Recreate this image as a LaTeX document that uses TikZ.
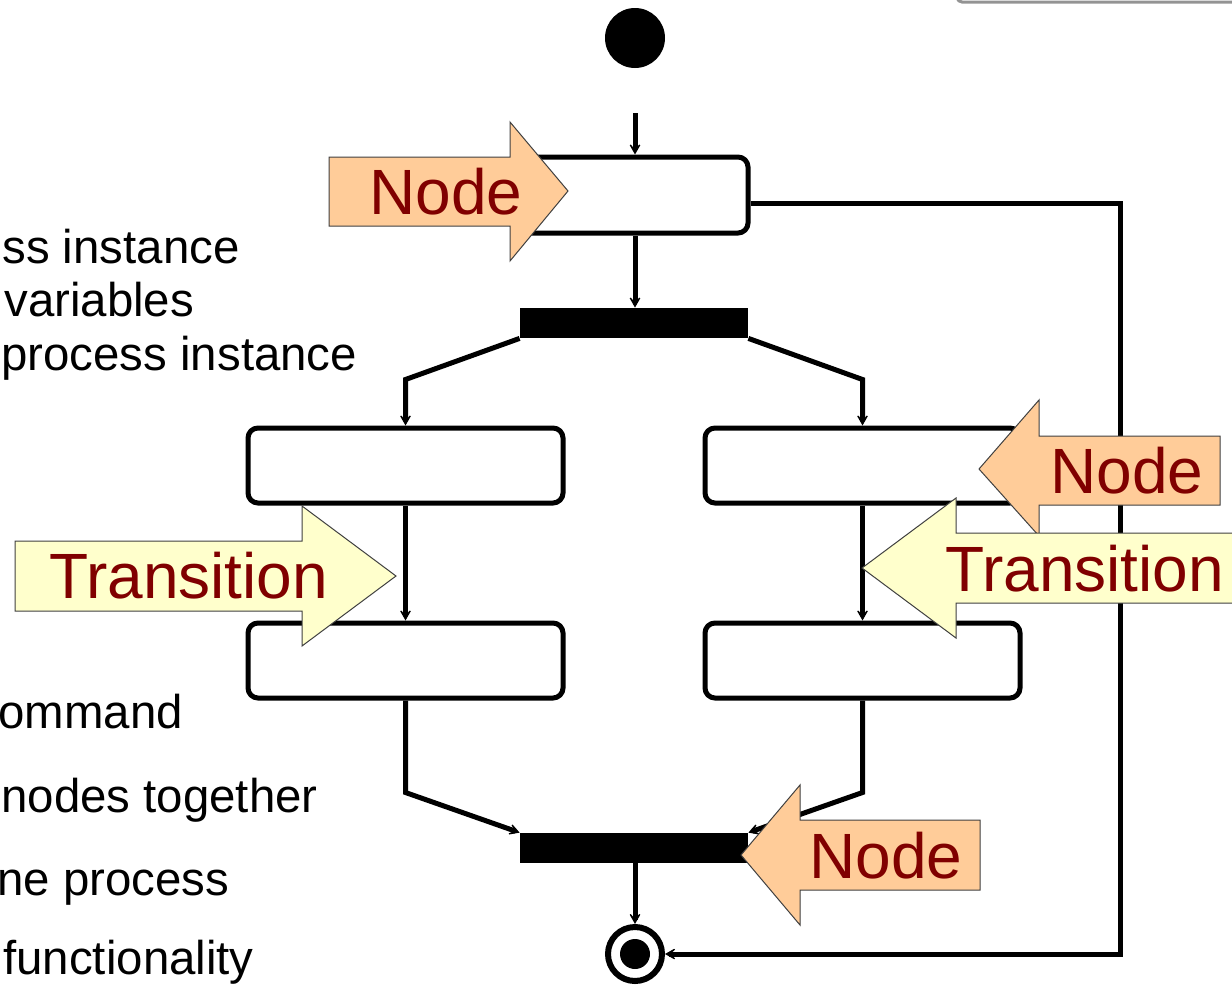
\documentclass[tikz,border=0pt]{standalone}
\usepackage{fontspec}
\setmainfont{Liberation Sans}
\usetikzlibrary{arrows.meta}
\definecolor{calloutorange}{HTML}{FFCC99}
\definecolor{calloutyellow}{HTML}{FFFFCC}
\definecolor{labelred}{HTML}{800000}
\definecolor{calloutedge}{HTML}{404040}
\begin{document}
\begin{tikzpicture}[x=0.5pt,y=-0.5pt,
  action/.style={draw, line width=2.5pt, rounded corners=5pt, fill=white, inner sep=0pt},
  wideaction/.style={action, minimum width=157.5pt, minimum height=37.5pt},
  syncbar/.style={fill=black, inner sep=0pt, minimum width=114pt, minimum height=15pt},
  flow/.style={line width=2.5pt, -{Stealth[length=7.5pt,width=8.5pt,inset=5pt]}},
  nodecallout/.style={fill=calloutorange, draw=calloutedge, line width=0.5pt},
  transcallout/.style={fill=calloutyellow, draw=calloutedge, line width=0.5pt},
  calltext/.style={text=labelred, inner sep=0pt, anchor=base west, font=\fontsize{32}{36}\selectfont},
  sidetext/.style={text=black, inner sep=0pt, anchor=base west, font=\fontsize{23.7}{28}\selectfont}]
\useasboundingbox (0,0) rectangle (1232,986);

% fragment of a neighbouring frame in the corner
\draw[gray!85, line width=1.5pt, rounded corners=2pt] (955,-10) -- (958,2) -- (1240,2);

% bullet text running in from the left
\node[sidetext] (t1) at (2,263) {ss instance};
\node[sidetext] (t2) at (4,316) {variables};
\node[sidetext] (t3) at (1,370) {process instance};
\node[sidetext] (t4) at (-2,728) {ommand};
\node[sidetext] (t5) at (1,812) {nodes together};
\node[sidetext] (t6) at (-3,895) {ne process};
\node[sidetext] (t7) at (3,974) {functionality};

% activity diagram
\node[circle, fill=black, inner sep=0pt, minimum size=30pt] (start) at (635,38) {};
\coordinate (entry) at (635,113);
\node[action, minimum width=113pt, minimum height=38pt] (a1) at (635,195) {};
\node[syncbar] (fork) at (634,323) {};
\node[wideaction] (b1) at (405.5,465.5) {};
\node[wideaction] (c1) at (862.5,465.5) {};
\node[wideaction] (d1) at (405.5,660.5) {};
\node[wideaction] (e1) at (862.5,660.5) {};
\node[syncbar] (join) at (634,848) {};
\node[circle, draw, line width=3pt, inner sep=0pt, minimum size=27pt] (fin) at (635,954) {};
\node[circle, fill=black, inner sep=0pt, minimum size=15pt] (findot) at (fin) {};

\draw[flow] (entry) -- (a1.north);
\draw[flow] (a1.south) -- (a1.south |- fork.north);
\draw[flow] (fork.south west) -- ([yshift=23pt]b1.north) -- (b1.north);
\draw[flow] (fork.south east) -- ([yshift=23pt]c1.north) -- (c1.north);
\draw[flow] (b1.south) -- (d1.north);
\draw[flow] (c1.south) -- (e1.north);
\draw[flow] (d1.south) -- ([yshift=-46pt]d1.south) -- (join.north west);
\draw[flow] (e1.south) -- ([yshift=-46pt]e1.south) -- (join.north east);
\draw[flow] (join.south -| fin.north) -- (fin.north);
\coordinate (loopturn) at (1120,203);
\draw[flow] ([yshift=-4pt]a1.east) -- (loopturn) |- (fin.east);

% callouts
\draw[nodecallout] (329,157) -- (510,157) -- (510,122) -- (568,191) -- (510,261) -- (510,226) -- (329,226) -- cycle;
\node[calltext] (lbl1) at (369,214) {Node};

\draw[nodecallout] (1220,436) -- (1039,436) -- (1039,400) -- (979,469) -- (1039,536) -- (1039,505) -- (1220,505) -- cycle;
\node[calltext] (lbl2) at (1050,493) {Node};

\draw[transcallout] (1250,533) -- (956,533) -- (956,498) -- (862,568) -- (956,638) -- (956,603) -- (1250,603) -- cycle;
\node[calltext] (lbl3) at (945,591) {Transition};

\draw[transcallout] (15,541) -- (302,541) -- (302,506) -- (396,576) -- (302,646) -- (302,611) -- (15,611) -- cycle;
\node[calltext] (lbl4) at (49,598) {Transition};

\draw[nodecallout] (980,820) -- (800,820) -- (800,785) -- (741,855) -- (800,925) -- (800,890) -- (980,890) -- cycle;
\node[calltext] (lbl5) at (809,878) {Node};
\end{tikzpicture}
\end{document}
